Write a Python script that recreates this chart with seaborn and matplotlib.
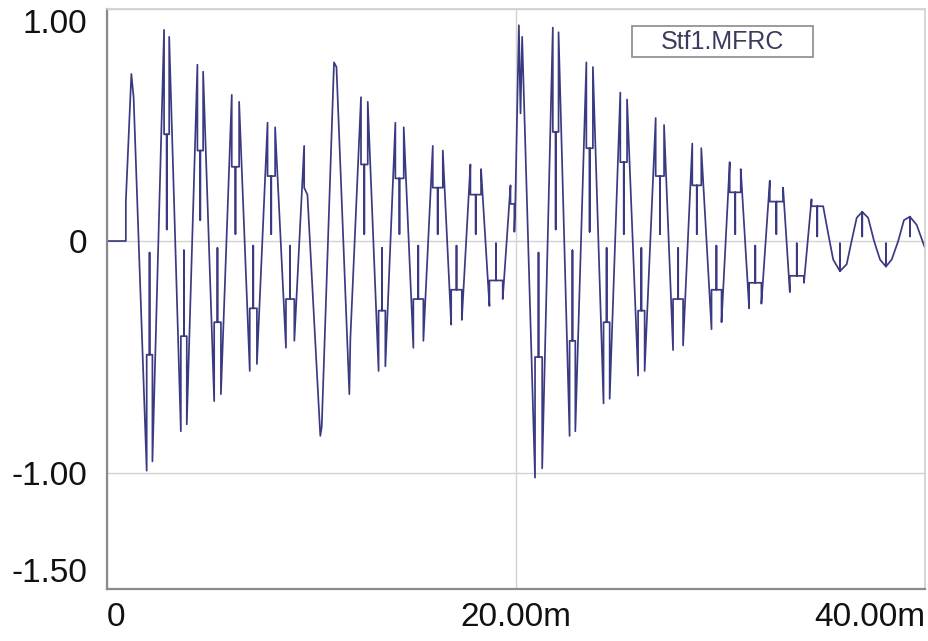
import matplotlib
matplotlib.use('Agg')
import matplotlib.pyplot as plt
from matplotlib.patches import Rectangle
import pandas as pd
import seaborn as sns

# Trace vertices (time in ms, value)
time_ms = [
    0.00, 0.92, 0.92, 1.19, 1.30,
    1.94, 1.94, 2.08, 2.08, 2.08, 2.22, 2.22,
    2.79, 2.79, 2.92, 2.92, 2.92, 3.04, 3.04,
    3.61, 3.61, 3.76, 3.76, 3.76, 3.90, 3.90,
    4.42, 4.42, 4.56, 4.56, 4.56, 4.70, 4.70,
    5.24, 5.24, 5.40, 5.40, 5.40, 5.57, 5.57,
    6.10, 6.10, 6.28, 6.28, 6.28, 6.46, 6.46,
    6.98, 6.98, 7.15, 7.15, 7.15, 7.33, 7.33,
    7.85, 7.85, 8.03, 8.03, 8.03, 8.22, 8.22,
    8.75, 8.75, 8.95, 8.95, 8.95, 9.16, 9.16,
    9.64, 9.64, 9.80,
    10.43, 10.50, 11.10, 11.22, 11.85, 11.90,
    12.42, 12.42, 12.58, 12.58, 12.58, 12.75, 12.75,
    13.28, 13.28, 13.45, 13.45, 13.45, 13.61, 13.61,
    14.10, 14.10, 14.30, 14.30, 14.30, 14.51, 14.51,
    14.98, 14.98, 15.22, 15.22, 15.22, 15.47, 15.47,
    15.93, 15.93, 16.17, 16.17, 16.17, 16.42, 16.42,
    16.83, 16.83, 17.09, 17.09, 17.09, 17.35, 17.35,
    17.77, 17.77, 18.03, 18.03, 18.03, 18.29, 18.29,
    18.70, 18.70, 19.02, 19.02, 19.02, 19.35, 19.35,
    19.73, 19.73, 19.92, 19.92, 19.97,
    20.14, 20.22, 20.30,
    20.93, 20.93, 21.10, 21.10, 21.10, 21.28, 21.28,
    21.80, 21.80, 21.94, 21.94, 21.94, 22.08, 22.08,
    22.62, 22.62, 22.76, 22.76, 22.76, 22.90, 22.90,
    23.44, 23.44, 23.60, 23.60, 23.60, 23.76, 23.76,
    24.28, 24.28, 24.43, 24.43, 24.43, 24.58, 24.58,
    25.10, 25.10, 25.27, 25.27, 25.27, 25.43, 25.43,
    25.97, 25.97, 26.13, 26.13, 26.13, 26.29, 26.29,
    26.83, 26.83, 27.04, 27.04, 27.04, 27.24, 27.24,
    27.68, 27.68, 27.93, 27.93, 27.93, 28.17, 28.17,
    28.62, 28.62, 28.84, 28.84, 28.84, 29.06, 29.06,
    29.56, 29.56, 29.80, 29.80, 29.80, 30.05, 30.05,
    30.45, 30.45, 30.72, 30.72, 30.72, 30.99, 30.99,
    31.40, 31.40, 31.70, 31.70, 31.70, 32.00, 32.00,
    32.41, 32.41, 32.73, 32.73, 32.73, 33.06, 33.06,
    33.39, 33.39, 33.73, 33.73, 33.73, 34.08, 34.08,
    34.45, 34.45, 34.73, 34.73, 34.73, 35.02, 35.02,
    35.27, 35.51, 35.84, 35.84, 35.84, 36.17, 36.41, 36.66,
    36.93, 36.93, 36.93, 37.22, 37.51, 37.80,
    38.09, 38.09, 38.09, 38.37, 38.69, 38.97,
    39.26, 39.26, 39.26, 39.59, 40.00,
]
mfrc = [
    0.00, 0.00, 0.17, 0.72, 0.62,
    -0.99, -0.49, -0.49, -0.05, -0.49, -0.49, -0.95,
    0.91, 0.46, 0.46, 0.05, 0.46, 0.46, 0.88,
    -0.82, -0.41, -0.41, -0.04, -0.41, -0.41, -0.79,
    0.76, 0.39, 0.39, 0.09, 0.39, 0.39, 0.73,
    -0.69, -0.35, -0.35, -0.03, -0.35, -0.35, -0.66,
    0.63, 0.32, 0.32, 0.03, 0.32, 0.32, 0.60,
    -0.56, -0.29, -0.29, -0.02, -0.29, -0.29, -0.53,
    0.51, 0.28, 0.28, 0.03, 0.28, 0.28, 0.49,
    -0.46, -0.25, -0.25, -0.02, -0.25, -0.25, -0.43,
    0.41, 0.23, 0.20,
    -0.84, -0.80, 0.77, 0.75, -0.66, -0.42,
    0.62, 0.33, 0.33, 0.03, 0.33, 0.33, 0.60,
    -0.56, -0.30, -0.30, -0.03, -0.30, -0.30, -0.54,
    0.51, 0.27, 0.27, 0.03, 0.27, 0.27, 0.49,
    -0.46, -0.25, -0.25, -0.02, -0.25, -0.25, -0.43,
    0.41, 0.23, 0.23, 0.03, 0.23, 0.23, 0.39,
    -0.36, -0.21, -0.21, -0.02, -0.21, -0.21, -0.34,
    0.33, 0.20, 0.20, 0.03, 0.20, 0.20, 0.31,
    -0.28, -0.17, -0.17, -0.01, -0.17, -0.17, -0.25,
    0.24, 0.16, 0.16, 0.04, 0.18,
    0.93, 0.55, 0.88,
    -1.02, -0.50, -0.50, -0.05, -0.50, -0.50, -0.98,
    0.92, 0.47, 0.47, 0.05, 0.47, 0.47, 0.90,
    -0.84, -0.43, -0.43, -0.04, -0.43, -0.43, -0.82,
    0.77, 0.40, 0.40, 0.04, 0.40, 0.40, 0.75,
    -0.70, -0.35, -0.35, -0.03, -0.35, -0.35, -0.68,
    0.64, 0.34, 0.34, 0.03, 0.34, 0.34, 0.61,
    -0.58, -0.30, -0.30, -0.03, -0.30, -0.30, -0.56,
    0.53, 0.28, 0.28, 0.03, 0.28, 0.28, 0.50,
    -0.47, -0.25, -0.25, -0.03, -0.25, -0.25, -0.45,
    0.42, 0.24, 0.24, 0.03, 0.24, 0.24, 0.40,
    -0.38, -0.21, -0.21, -0.02, -0.21, -0.21, -0.35,
    0.34, 0.21, 0.21, 0.03, 0.21, 0.21, 0.31,
    -0.29, -0.18, -0.18, -0.02, -0.18, -0.18, -0.27,
    0.26, 0.17, 0.17, 0.03, 0.17, 0.17, 0.23,
    -0.22, -0.15, -0.15, -0.01, -0.15, -0.15, -0.18,
    0.18, 0.15, 0.15, 0.02, 0.15, 0.15, 0.15,
    0.03, -0.08, -0.13, -0.01, -0.13, -0.10, 0.00, 0.10,
    0.126, 0.02, 0.126, 0.10, 0.00, -0.08,
    -0.11, -0.01, -0.11, -0.08, 0.00, 0.09,
    0.105, 0.02, 0.105, 0.07, -0.03,
]

series_name = 'Stf1.MFRC'
x_ticks = [0, 20, 40]
x_labels = ['0', '20.00m', '40.00m']
y_ticks = [1.0, 0.0, -1.0, -1.5]
y_labels = ['1.00', '0', '-1.00', '-1.50']

sns.set_style('white')
plt.rcParams['font.family'] = ['Liberation Sans', 'DejaVu Sans']

fig = plt.figure(figsize=(9.29, 6.41), dpi=100)
ax = fig.add_axes([0.1152, 0.0811, 0.8805, 0.9048])

df = pd.DataFrame({'t': time_ms, 'v': mfrc})
sns.lineplot(data=df, x='t', y='v', sort=False, estimator=None,
             color='#3a3a82', linewidth=1.25, ax=ax)

ax.set_xlim(0, 40)
ax.set_ylim(-1.5, 1.0)
ax.set_xlabel('')
ax.set_ylabel('')

ax.set_xticks(x_ticks)
ax.set_xticklabels(x_labels)
ax.set_yticks(y_ticks)
ax.set_yticklabels(y_labels)
xl = ax.get_xticklabels()
xl[0].set_ha('left')
xl[-1].set_ha('right')
yl = ax.get_yticklabels()
yl[0].set_va('top')
yl[-1].set_va('bottom')

ax.tick_params(axis='x', direction='out', length=9, width=1.2, color='#707070',
               labelsize=24, pad=0, labelcolor='#111111')
ax.tick_params(axis='y', direction='out', length=10, width=1.2, color='#707070',
               labelsize=24, pad=4, labelcolor='#111111')

ax.grid(True, color='#d2d2d2', linewidth=1.0)
ax.set_axisbelow(True)
for side in ['left', 'bottom']:
    ax.spines[side].set_color('#8a8a8a')
    ax.spines[side].set_linewidth(1.6)
for side in ['top', 'right']:
    ax.spines[side].set_color('#d0d0d0')
    ax.spines[side].set_linewidth(1.2)

# legend box
ax.add_patch(Rectangle((0.642, 0.917), 0.221, 0.0534, transform=ax.transAxes,
                       facecolor='white', edgecolor='#8a8a8a', linewidth=1.2, zorder=5))
ax.text(0.7525, 0.944, series_name, transform=ax.transAxes, ha='center', va='center',
        fontsize=18, color='#3b3b5e', zorder=6)

plt.savefig('out.png', dpi=100)
